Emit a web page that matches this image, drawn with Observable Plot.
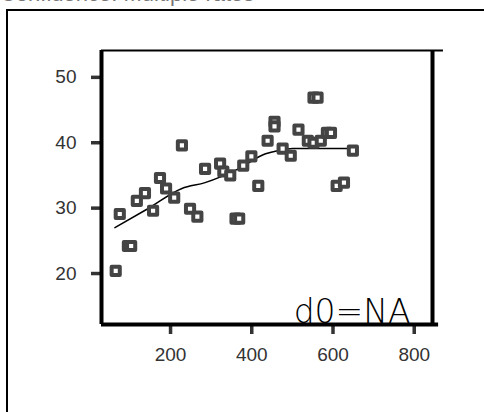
<!DOCTYPE html>
<html>
<head>
<meta charset="utf-8">
<script src="https://cdn.jsdelivr.net/npm/d3@7"></script>
<script src="https://cdn.jsdelivr.net/npm/@observablehq/plot@0.6"></script>
<style>
  html, body { margin: 0; padding: 0; background: #fff; }
  body { width: 484px; height: 412px; overflow: hidden; position: relative; }
  #title { position: absolute; left: 0; top: -19px; font: 22px "Liberation Sans", Arial, sans-serif; color: #777; white-space: nowrap; }
  #frame { position: absolute; left: 6px; top: 9px; width: 600px; height: 600px; border: 2px solid #000; }
  #chart { position: absolute; left: 0; top: 0; }
  #chart svg { overflow: visible; }
  g[aria-label="y-axis tick"] path, g[aria-label="x-axis tick"] path { stroke-width: 3.5px; }
</style>
</head>
<body>
<div id="title">Confidence: Multiple rates</div>
<div id="frame"></div>
<div id="chart"></div>
<script>
// Observed points (x, y)
const xs = [65, 75, 95, 103, 117, 137, 157, 174, 189, 209, 228, 248, 266, 285, 322, 330, 347, 360, 369, 379, 399, 416, 439, 456, 456, 476, 496, 515, 538, 552, 552, 562, 570, 585, 595, 609, 627, 649];
const ys = [20.1, 28.8, 23.9, 23.9, 30.8, 32.0, 29.3, 34.3, 32.7, 31.3, 39.3, 29.6, 28.4, 35.7, 36.5, 35.3, 34.7, 28.1, 28.1, 36.2, 37.6, 33.1, 40.0, 42.9, 42.2, 38.8, 37.7, 41.7, 40.0, 39.7, 46.6, 46.6, 40.0, 41.2, 41.2, 33.1, 33.6, 38.5];

// Smoothed fit line
const fitX = [63, 144, 228, 285, 367, 434, 466, 501, 649];
const fitY = [26.7, 29.6, 32.7, 33.6, 35.7, 38.0, 38.5, 38.8, 38.8];

const xTicks = [200, 400, 600, 800];
const yTicks = [20, 30, 40, 50];
const xDomain = [30, 845];
const yDomain = [11.9, 53.8];
const topLineEnd = 872;
const bottomLineEnd = 860;
const note = "d0=NA";

const points = xs.map((x, i) => ({x, y: ys[i]}));
const fit = fitX.map((x, i) => ({x, y: fitY[i]}));

const chart = Plot.plot({
  width: 484,
  height: 412,
  marginLeft: 101,
  marginRight: 52,
  marginTop: 50,
  marginBottom: 88,
  style: { fontFamily: "'Liberation Sans', Arial, sans-serif", fontSize: "19px", color: "#333", background: "transparent" },
  x: { domain: xDomain },
  y: { domain: yDomain },
  marks: [
    Plot.axisY({ ticks: yTicks, tickSize: 10, tickPadding: 15, label: null, dy: 2, fill: "#333" }),
    Plot.axisX({ ticks: xTicks, tickSize: 10, tickPadding: 13, label: null, fill: "#333" }),
    // axes frame
    Plot.ruleX([xDomain[0]], { y1: yDomain[0], y2: yDomain[1], stroke: "#000", strokeWidth: 4 }),
    Plot.ruleX([xDomain[1]], { y1: yDomain[0], y2: yDomain[1], stroke: "#000", strokeWidth: 4 }),
    Plot.ruleY([yDomain[0]], { x1: xDomain[0], x2: bottomLineEnd, stroke: "#000", strokeWidth: 4 }),
    Plot.ruleY([yDomain[1]], { x1: xDomain[0], x2: topLineEnd, stroke: "#000", strokeWidth: 2 }),
    Plot.line(fit, { x: "x", y: "y", stroke: "#000", strokeWidth: 1.5, curve: "monotone-x" }),
    Plot.dot(points, { x: "x", y: "y", symbol: "square", r: 4.6, stroke: "#444", strokeWidth: 4, fill: "white", strokeLinejoin: "round" }),
    Plot.text([note], { frameAnchor: "bottom-right", text: d => d, dx: -22, dy: -2, lineAnchor: "bottom", textAnchor: "end", fontSize: 33, fontFamily: "'DejaVu Sans', sans-serif", fontWeight: 200, fill: "#000" })
  ]
});
document.getElementById("chart").append(chart);
</script>
</body>
</html>
